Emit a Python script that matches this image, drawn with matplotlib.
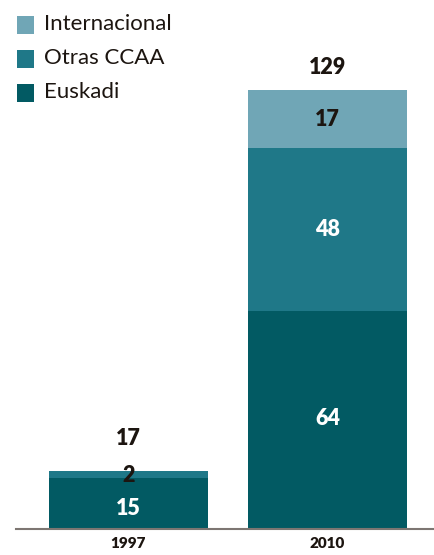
import matplotlib.pyplot as plt
import numpy as np
from matplotlib.patches import Rectangle

years = ["1997", "2010"]
euskadi = [15, 64]
otras = [2, 48]
internacional = [0, 17]
totals = [17, 129]
legend_labels = ["Internacional", "Otras CCAA", "Euskadi"]

c_eus = "#025a63"
c_otr = "#1f7888"
c_int = "#70a6b6"
dark = "#1c1510"

plt.rcParams["font.family"] = ["Lato", "DejaVu Sans"]

fig = plt.figure(figsize=(4.35, 5.55), dpi=100)
ax = fig.add_axes([16 / 435, 26 / 555, 419 / 435, 529 / 555])

x = np.arange(len(years))
w = 0.8
eus = np.array(euskadi)
otr = np.array(otras)
intl = np.array(internacional)
ax.bar(x, eus, w, color=c_eus)
ax.bar(x, otr, w, bottom=eus, color=c_otr)
ax.bar(x, intl, w, bottom=eus + otr, color=c_int)

ax.set_xlim(-0.565, 1.54)
ax.set_ylim(0, 529 / 3.4)

num = dict(ha="center", va="center", fontsize=15.5, fontweight="heavy")
ax.text(0, eus[0] / 2 - 1.5, str(eus[0]), color="white", **num)
ax.text(0, eus[0] + 0.8, str(otr[0]), color=dark, **num)
ax.text(1, eus[1] / 2 + 0.5, str(eus[1]), color="white", **num)
ax.text(1, eus[1] + otr[1] / 2, str(otr[1]), color="white", **num)
ax.text(1, eus[1] + otr[1] + intl[1] / 2, str(intl[1]), color=dark, **num)
ax.text(0, totals[0] + 9.6, str(totals[0]), color=dark, **num)
ax.text(1, totals[1] + 6.6, str(totals[1]), color=dark, **num)

for s in ["top", "right", "left"]:
    ax.spines[s].set_visible(False)
ax.spines["bottom"].set_color("#7d7672")
ax.spines["bottom"].set_linewidth(1.5)
ax.set_yticks([])
ax.set_xticks(x)
ax.set_xticklabels(years, fontsize=11, fontweight="heavy", color=dark)
ax.tick_params(axis="x", length=0, pad=6)

# legend, drawn by hand to match the layout
for i, (lab, col) in enumerate(zip(legend_labels, [c_int, c_otr, c_eus])):
    yc = 1 - (25 + 34 * i) / 555
    fig.add_artist(Rectangle((17 / 435, yc - 8.5 / 555), 17 / 435, 17 / 555,
                             transform=fig.transFigure, color=col, lw=0))
    fig.text(44 / 435, yc + 1 / 555, lab, ha="left", va="center", fontsize=16,
             color=dark)

fig.savefig("out.png", dpi=100)
